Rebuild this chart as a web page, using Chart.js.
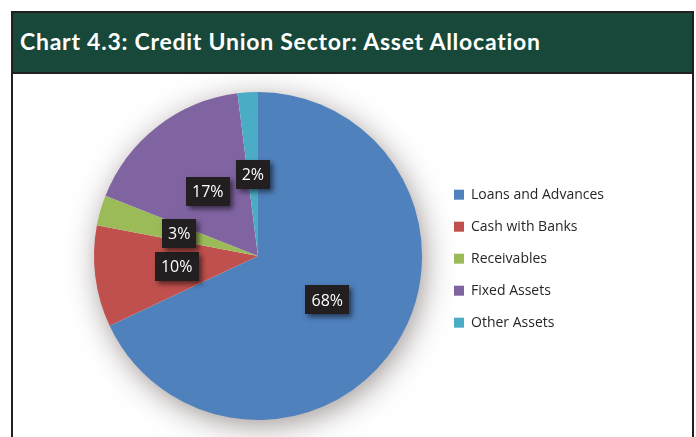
<!DOCTYPE html>
<html>
<head>
<meta charset="utf-8">
<script src="https://cdn.jsdelivr.net/npm/chart.js@4.4.0/dist/chart.umd.min.js"></script>
<style>
  html, body { margin: 0; padding: 0; background: #ffffff; width: 696px; height: 437px; overflow: hidden; }
  #frame { position: absolute; left: 11px; top: 11px; width: 683px; height: 440px; box-sizing: border-box;
           border: 2px solid #231f20; border-bottom: none; }
  #header { position: absolute; left: 0; top: 0; right: 0; height: 59px; background: #17483a;
            border-bottom: 2px solid #231f20; }
  #header h1 { margin: 0; position: absolute; left: 7px; top: 15px; font-family: Lato, "Open Sans", sans-serif;
               font-weight: bold; font-size: 23px; color: #ffffff; line-height: 27px; letter-spacing: 0.75px; }
  #chartBox { position: absolute; left: 0; top: 61px; width: 678px; height: 364px; }
</style>
</head>
<body>
<div id="frame">
  <div id="header"><h1>Chart 4.3: Credit Union Sector: Asset Allocation</h1></div>
  <div id="chartBox"><canvas id="c" width="678" height="364"></canvas></div>
</div>
<script>
const categories = ["Loans and Advances", "Cash with Banks", "Receivables", "Fixed Assets", "Other Assets"];
const shares = [68, 10, 3, 17, 2];
const valueLabels = ["68%", "10%", "3%", "17%", "2%"];
const sliceColors = ["#4f81bd", "#c0504d", "#9bbb59", "#8064a2", "#4bacc6"];

const pieShadow = {
  id: 'pieShadow',
  beforeDatasetsDraw(chart) {
    const arc = chart.getDatasetMeta(0).data[0];
    if (!arc) return;
    const ctx = chart.ctx;
    ctx.save();
    ctx.shadowColor = 'rgba(60,40,40,0.5)';
    ctx.shadowBlur = 30;
    ctx.shadowOffsetX = 3;
    ctx.shadowOffsetY = 6;
    ctx.beginPath();
    ctx.arc(arc.x, arc.y, arc.outerRadius - 1, 0, Math.PI * 2);
    ctx.fillStyle = '#ffffff';
    ctx.fill();
    ctx.restore();
  }
};

const boxLabels = {
  id: 'boxLabels',
  afterDatasetsDraw(chart) {
    const ctx = chart.ctx;
    const meta = chart.getDatasetMeta(0);
    ctx.save();
    ctx.font = '16px "Open Sans", sans-serif';
    ctx.textAlign = 'center';
    ctx.textBaseline = 'middle';
    meta.data.forEach((arc, i) => {
      const p = arc.tooltipPosition();
      const txt = valueLabels[i];
      const w = ctx.measureText(txt).width + 12;
      const h = 29;
      ctx.save();
      ctx.shadowColor = 'rgba(0,0,0,0.55)';
      ctx.shadowBlur = 5;
      ctx.shadowOffsetX = 3;
      ctx.shadowOffsetY = 3;
      ctx.fillStyle = '#231f20';
      ctx.fillRect(Math.round(p.x - w / 2), Math.round(p.y - h / 2), Math.round(w), h);
      ctx.restore();
      ctx.fillStyle = '#ffffff';
      ctx.fillText(txt, p.x, p.y + 1);
    });
    ctx.restore();
  }
};

new Chart(document.getElementById('c'), {
  type: 'pie',
  data: {
    labels: categories,
    datasets: [{
      data: shares,
      backgroundColor: sliceColors,
      borderWidth: 0,
      hoverOffset: 0
    }]
  },
  options: {
    responsive: false,
    animation: false,
    events: [],
    layout: { padding: { left: 67, right: 77, top: 18, bottom: 18 } },
    plugins: {
      tooltip: { enabled: false },
      legend: {
        position: 'right',
        title: { display: true, text: '', font: { size: 2 }, padding: { top: 1, bottom: 2 } },
        labels: {
          boxWidth: 10,
          boxHeight: 10,
          padding: 18,
          color: '#262626',
          font: { family: '"Open Sans", sans-serif', size: 14 }
        }
      }
    }
  },
  plugins: [pieShadow, boxLabels]
});
</script>
</body>
</html>
